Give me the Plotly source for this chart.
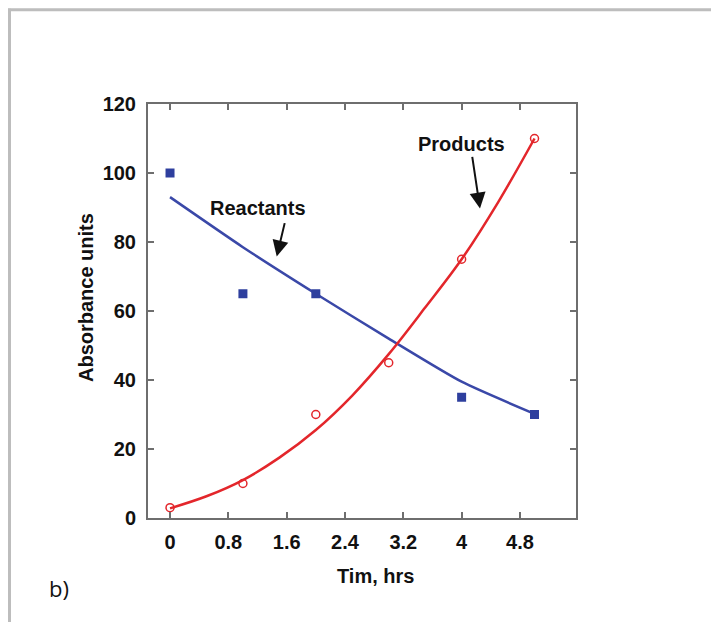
import plotly.graph_objects as go

# Data
time_reactants = [0, 1, 2, 4, 5]
reactants = [100, 65, 65, 35, 30]
time_products = [0, 1, 2, 3, 4, 5]
products = [3, 10, 30, 45, 75, 110]

# Trend lines as drawn in the picture
reactant_line_x = [0, 1, 2, 3, 4, 5]
reactant_line_y = [93, 78.5, 65, 52, 39.5, 30.2]
product_line_x = [0, 0.5, 1, 1.5, 2, 2.5, 3, 3.5, 4, 4.5, 5]
product_line_y = [2.8, 6.3, 11, 17.5, 25.5, 35.5, 47.5, 61, 75, 91.5, 110]

x_ticks = [0, 0.8, 1.6, 2.4, 3.2, 4, 4.8]
x_tick_labels = ["0", "0.8", "1.6", "2.4", "3.2", "4", "4.8"]
y_ticks = [0, 20, 40, 60, 80, 100, 120]

# page has an 8px body offset; layout computed in screen pixels
OFF = 8
W, H = 719, 622
PL, PR, PT, PB = 148, 576, 103.5, 518.5  # plot box in screen pixels
L = PL - OFF
T = PT - OFF
R = W - (PR - OFF)
B = H - (PB - OFF)
pw, ph = PR - PL, PB - PT

def px(x):
    return (x - PL) / pw

def py(y):
    return (PB - y) / ph

FONT = "Liberation Sans, Arial, Helvetica, sans-serif"
BOLD = dict(family=FONT, size=20, color="#111111", weight="bold")
BLUE = "#2E3F9E"
RED = "#E3262B"
AX = "#6e6e6e"

fig = go.Figure()
fig.add_trace(go.Scatter(x=reactant_line_x, y=reactant_line_y, mode="lines",
                         line=dict(color="#3a48a8", width=2.5, shape="spline", smoothing=0.6),
                         showlegend=False, hoverinfo="skip"))
fig.add_trace(go.Scatter(x=product_line_x, y=product_line_y, mode="lines",
                         line=dict(color=RED, width=2.5, shape="spline", smoothing=1),
                         showlegend=False, hoverinfo="skip"))
fig.add_trace(go.Scatter(x=time_reactants, y=reactants, mode="markers",
                         marker=dict(symbol="square", size=9, color=BLUE),
                         name="Reactants", showlegend=False))
fig.add_trace(go.Scatter(x=time_products, y=products, mode="markers",
                         marker=dict(symbol="circle-open", size=8, color=RED,
                                     line=dict(width=1.5, color=RED)),
                         name="Products", showlegend=False))

axis_common = dict(showgrid=False, zeroline=False, showline=True, linecolor=AX,
                   linewidth=2, mirror="ticks", ticks="inside", ticklen=6,
                   tickwidth=1.5, tickcolor=AX, tickfont=BOLD)

fig.update_xaxes(range=[-0.302, 5.569], tickvals=x_ticks, ticktext=x_tick_labels,
                 ticklabelstandoff=5, **axis_common)
fig.update_yaxes(range=[0, 120], tickvals=y_ticks, ticklabelstandoff=6, **axis_common)

annotations = [
    dict(x=px(375.5), y=py(577), xref="paper", yref="paper", text="Tim, hrs",
         showarrow=False, xanchor="center", yanchor="middle", font=BOLD),
    dict(x=px(86), y=py(298), xref="paper", yref="paper", text="Absorbance units",
         showarrow=False, xanchor="center", yanchor="middle", textangle=-90, font=BOLD),
    dict(x=1.207, y=89.9, xref="x", yref="y", text="Reactants", showarrow=False,
         font=BOLD),
    dict(x=4.005, y=108.4, xref="x", yref="y", text="Products", showarrow=False,
         font=BOLD),
    dict(x=1.464, y=75.8, ax=1.578, ay=85.9, xref="x", yref="y", axref="x", ayref="y",
         text="", showarrow=True, arrowhead=2, arrowsize=1.6, arrowwidth=2, arrowcolor="#111111"),
    dict(x=4.252, y=89.7, ax=4.143, ay=105.1, xref="x", yref="y", axref="x", ayref="y",
         text="", showarrow=True, arrowhead=2, arrowsize=1.6, arrowwidth=2, arrowcolor="#111111"),
    dict(x=px(59), y=py(589), xref="paper", yref="paper", text="b)", showarrow=False,
         xanchor="center", yanchor="middle",
         font=dict(family="Open Sans, Liberation Sans, sans-serif", size=22, color="#111111")),
]

shapes = [
    dict(type="line", xref="paper", yref="paper", x0=px(8), x1=px(740), y0=py(9), y1=py(9),
         line=dict(color="#bdbdbd", width=3)),
    dict(type="line", xref="paper", yref="paper", x0=px(9.5), x1=px(9.5), y0=py(8), y1=py(640),
         line=dict(color="#bdbdbd", width=3)),
]

fig.update_layout(width=W, height=H, margin=dict(l=L, r=R, t=T, b=B),
                  plot_bgcolor="white", paper_bgcolor="white",
                  annotations=annotations, shapes=shapes, showlegend=False)

fig.write_html("out.html")
